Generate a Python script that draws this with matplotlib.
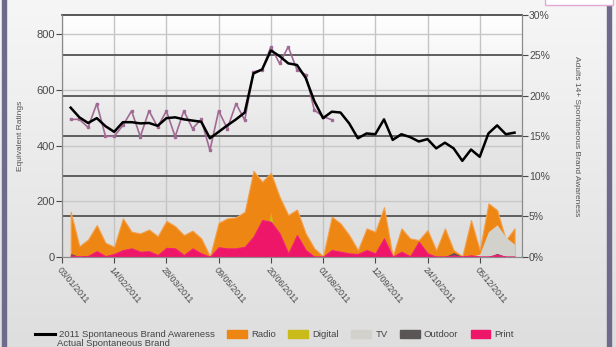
import numpy as np
import pandas as pd
import matplotlib
matplotlib.use("Agg")
import matplotlib.pyplot as plt
import matplotlib.dates as mdates
from matplotlib.lines import Line2D
from matplotlib.patches import Patch, Rectangle

plt.rcParams['font.family'] = ['Liberation Sans', 'DejaVu Sans']

# weekly data, 10/01/2011 .. 02/01/2012
weeks = pd.date_range('2011-01-10', periods=52, freq='7D')

awareness = [18.5, 17.3, 16.6, 17.2, 16.2, 15.5, 16.7, 16.7, 16.55, 16.6,
             16.25, 17.2, 17.3, 17.05, 16.9, 16.75, 14.7, 15.5, 16.3, 17.05,
             17.9, 22.75, 23.25, 25.6, 24.9, 24.0, 23.8, 22.2, 19.3, 17.2,
             18.0, 17.9, 16.55, 14.7, 15.3, 15.2, 17.05, 14.5, 15.2, 14.85,
             14.3, 14.6, 13.45, 14.15, 13.45, 11.9, 13.3, 12.4, 15.3, 16.3,
             15.2, 15.4]

actual = [17.05, 17.05, 16.05, 19.0, 14.95, 14.95, 16.3, 18.1, 14.9, 18.1,
          16.1, 18.1, 14.9, 18.1, 15.9, 17.05, 13.2, 18.1, 15.9, 19.0,
          16.95, 22.95, 23.2, 26.05, 24.0, 26.05, 23.2, 22.6, 18.2, 17.4,
          17.0]

radio = [162, 38, 62, 114, 50, 36, 138, 90, 84, 98, 74, 129, 110, 78, 94, 66,
         2, 122, 138, 142, 162, 309, 270, 302, 216, 150, 170, 84, 30, 2, 144,
         120, 78, 24, 102, 90, 178, 2, 102, 66, 60, 96, 24, 102, 24, 2, 132,
         24, 192, 168, 60, 102]
digital = [0] * 52
digital[23] = 160
tv = [0] * 47 + [10, 90, 115, 70, 45]
outdoor = [0] * 52
outdoor[0] = 12
outdoor[44] = 15
outdoor[49] = 12
press = [5, 0, 3, 20, 2, 10, 24, 30, 18, 20, 6, 32, 30, 6, 30, 12, 0, 34, 30,
         30, 36, 72, 132, 126, 84, 12, 78, 24, 0, 0, 24, 18, 12, 10, 24, 12,
         66, 0, 18, 2, 54, 12, 0, 0, 5, 0, 5, 0, 0, 8, 0, 0]

left_ticks = [0, 200, 400, 600, 800]
right_ticks = [0, 5, 10, 15, 20, 25, 30]
tick_dates = pd.date_range('2011-01-03', periods=9, freq='42D')

fig = plt.figure(figsize=(6.16, 3.47), dpi=100)
# window-ish background
bg = fig.add_axes([0, 0, 1, 1], zorder=-10)
grad = np.linspace(0, 1, 256).reshape(-1, 1)
bg.imshow(grad, aspect='auto', cmap=matplotlib.colors.LinearSegmentedColormap.from_list(
    'bg', ['#dedede', '#f6f6f6']), extent=[0, 1, 0, 1], origin='lower')
bg.add_patch(Rectangle((0.004, -0.01), 0.006, 1.02, color='#6e6a8c'))
bg.add_patch(Rectangle((0.986, -0.01), 0.006, 1.02, color='#6e6a8c'))
bg.add_patch(Rectangle((0.885, 0.986), 0.11, 0.03, facecolor='white',
                       edgecolor='#e4a8d4', lw=1))
bg.set_xlim(0, 1)
bg.set_ylim(0, 1)
bg.axis('off')

ax = fig.add_axes([0.1006, 0.2602, 0.7468, 0.6965])
ymax = 870
ax.set_ylim(0, ymax)
ax.set_xlim(pd.Timestamp('2011-01-03'), pd.Timestamp('2012-01-08'))

# plot area gradient
ax.imshow(grad, aspect='auto', extent=[0, 1, 0, 1], transform=ax.transAxes,
          cmap=matplotlib.colors.LinearSegmentedColormap.from_list(
              'pa', ['#dedede', '#e6e6e6', '#ffffff']), origin='lower', zorder=0)

for d in tick_dates:
    ax.axvline(d, color='#c4c4c4', lw=1, zorder=1)
for v in left_ticks[1:]:
    ax.axhline(v, color='#c8c8c8', lw=1, zorder=1)
for p in right_ticks[1:-1]:
    ax.axhline(p / 30 * ymax, color='#5e5e5e', lw=1.4, zorder=1)

ax.fill_between(weeks, radio, color='#ee8614', lw=0.8, edgecolor='#f3a04a', zorder=2)
ax.fill_between(weeks, digital, color='#c8bb1a', lw=0, zorder=3)
ax.fill_between(weeks, tv, color='#d3d1cb', lw=0, zorder=4)
ax.fill_between(weeks, outdoor, color='#5a5050', lw=0, zorder=5)
ax.fill_between(weeks, press, color='#ee1668', lw=0.8, edgecolor='#f0207a', zorder=6)

ax.set_yticks(left_ticks)
ax.set_xticks(tick_dates)
ax.xaxis.set_major_formatter(mdates.DateFormatter('%d/%m/%Y'))
ax.tick_params(axis='x', labelsize=6.5, colors='#4a4a4a', length=4, pad=2)
ax.tick_params(axis='y', labelsize=8, colors='#4a4a4a', length=4, pad=1)
for lbl in ax.get_xticklabels():
    lbl.set_rotation(-50)
    lbl.set_ha('left')
    lbl.set_rotation_mode('anchor')
ax.set_ylabel('Equivalent Ratings', fontsize=6, color='#555555', labelpad=9)
for s in ['left', 'right', 'bottom']:
    ax.spines[s].set_color('#8a8a8a')
ax.spines['top'].set_color('#3c3c3c')
ax.spines['top'].set_linewidth(1.2)

ax2 = ax.twinx()
ax2.set_ylim(0, 30)
ax2.plot(weeks[:len(actual)], actual, color='#a06a94', lw=1.2, marker='s',
         markersize=1.8, zorder=3)
ax2.plot(weeks, awareness, color='black', lw=1.8, zorder=4)
ax2.set_yticks(right_ticks)
ax2.set_yticklabels([f'{t}%' for t in right_ticks])
ax2.tick_params(axis='y', labelsize=7.5, colors='#4a4a4a', length=4, pad=1)
ax2.set_ylabel('Adults 14+ Spontaneous Brand Awareness', fontsize=6,
               color='#555555', rotation=-90, labelpad=22)
for s in ['left', 'right', 'bottom']:
    ax2.spines[s].set_color('#8a8a8a')
ax2.spines['top'].set_visible(False)

handles = [Line2D([], [], color='black', lw=2.2),
           Patch(color='#ee8614'), Patch(color='#c8bb1a'), Patch(color='#d3d1cb'),
           Patch(color='#5a5656'), Patch(color='#ee1668')]
labels = ['2011 Spontaneous Brand Awareness', 'Radio', 'Digital', 'TV',
          'Outdoor', 'Print']
fig.legend(handles, labels, loc='center left', bbox_to_anchor=(0.043, 0.035),
           ncol=6, frameon=False, fontsize=6.8, handlelength=2.1, handleheight=0.9,
           columnspacing=1.3, handletextpad=0.45, labelcolor='#444444')
fig.text(0.093, -0.002, 'Actual Spontaneous Brand', fontsize=6.8, color='#444444',
         va='bottom')

fig.savefig('out.png', dpi=100)
